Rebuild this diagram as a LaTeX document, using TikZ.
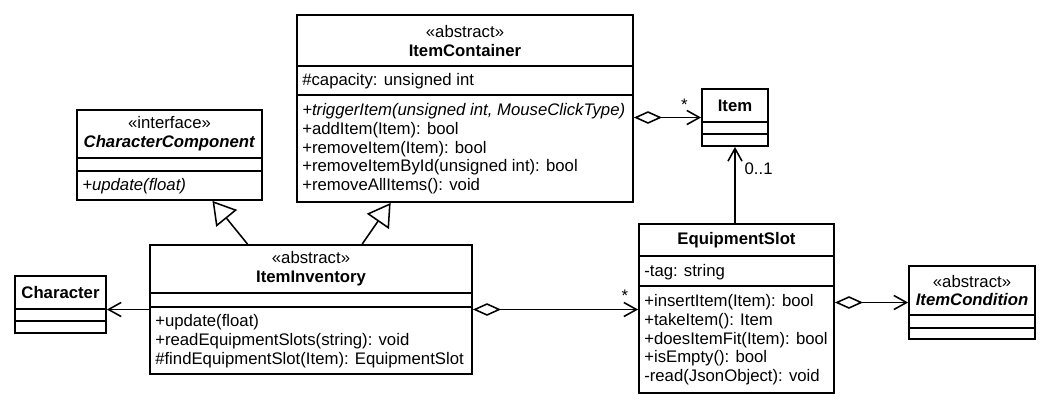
\documentclass[tikz,border=0pt]{standalone}
\usepackage{fontspec}
\setmainfont{Liberation Sans}
\usepackage{tikz}
\usetikzlibrary{positioning, arrows.meta, calc, fit}

\tikzset{
  umlclass/.style={draw, line width=1.3pt, inner sep=0pt},
  classline/.style={line width=1.3pt},
  head/.style={inner sep=0pt, align=center},
  members/.style={anchor=north west, inner sep=0pt, align=left},
  assoc/.style={line width=1.1pt, -{Straight Barb[length=9pt,width=10pt]}},
  aggr/.style={line width=1.1pt, {Diamond[open,length=20pt,width=9pt]}-{Straight Barb[length=9pt,width=10pt]}},
  inherit/.style={line width=1.1pt, -{Triangle[open,length=16pt,width=19pt]}},
}

% class frame: name, x1, y1, x2, y2, first divider, second divider
\newcommand{\classframe}[7]{%
  \node[umlclass, fit={(#2,#3) (#4,#5)}] (#1) {};
  \draw[classline] (#2,#6) -- (#4,#6);
  \draw[classline] (#2,#7) -- (#4,#7);
}

\begin{document}
\begin{tikzpicture}[x=0.025cm, y=-0.025cm, font=\fontsize{11.9}{13.4}\selectfont]
  \useasboundingbox (0,0) rectangle (1058,417);

  % classes
  \classframe{ic}{297}{15}{633}{202}{66}{95}
  \node[head] (ic-head) at (465,41) {«abstract»\\\textbf{ItemContainer}};
  \node[members] (ic-attr) at (302,73) {\#capacity: unsigned int};
  \node[members] (ic-ops) at (302,103) {\textit{+triggerItem(unsigned int, MouseClickType)}\\+addItem(Item): bool\\+removeItem(Item): bool\\+removeItemById(unsigned int): bool\\+removeAllItems(): void};

  \classframe{cc}{77}{110}{262}{200}{158}{171}
  \node[head] (cc-head) at (169.5,134) {«interface»\\\textbf{\textit{CharacterComponent}}};
  \node[members] (cc-ops) at (82,178) {\textit{+update(float)}};

  \classframe{item}{702}{89}{768}{146}{122}{134}
  \node[head] (item-head) at (735,105.5) {\textbf{Item}};

  \classframe{inv}{150}{245}{472}{374}{293}{307}
  \node[head] (inv-head) at (311,269) {«abstract»\\\textbf{ItemInventory}};
  \node[members] (inv-ops) at (155,314) {+update(float)\\+readEquipmentSlots(string): void\\\#findEquipmentSlot(Item): EquipmentSlot};

  \classframe{chr}{15}{276}{106}{333}{309}{321}
  \node[head] (chr-head) at (60.5,292.5) {\textbf{Character}};

  \classframe{slot}{639}{224}{834}{393}{256}{286}
  \node[head] (slot-head) at (736.5,240) {\textbf{EquipmentSlot}};
  \node[members] (slot-attr) at (644,264) {-tag: string};
  \node[members] (slot-ops) at (644,294) {+insertItem(Item): bool\\+takeItem(): Item\\+doesItemFit(Item): bool\\+isEmpty(): bool\\-read(JsonObject): void};

  \classframe{cond}{909}{266}{1035}{339}{315}{328}
  \node[head] (cond-head) at (972,290.5) {«abstract»\\\textbf{\textit{ItemCondition}}};

  % relations
  \draw[aggr] (ic.east |- item.west) -- (item.west) node[pos=0.75, above=1pt] (ic-mult) {*};
  \draw[assoc] (item.south |- slot.north) -- (item.south) node[pos=0.72, right=3pt] (slot-mult) {0..1};
  \draw[aggr] (inv.east) -- (slot.west |- inv.east) node[pos=0.92, above=2pt] (inv-mult) {*};
  \draw[assoc] (inv.west) -- (chr.east |- inv.west);
  \draw[aggr] (slot.east |- cond.west) -- (cond.west);
  \draw[inherit] ($(inv.north west)!0.304!(inv.north east)$) -- ($(cc.south west)!0.73!(cc.south east)$);
  \draw[inherit] ($(inv.north west)!0.658!(inv.north east)$) -- ($(ic.south west)!0.28!(ic.south east)$);
\end{tikzpicture}
\end{document}
